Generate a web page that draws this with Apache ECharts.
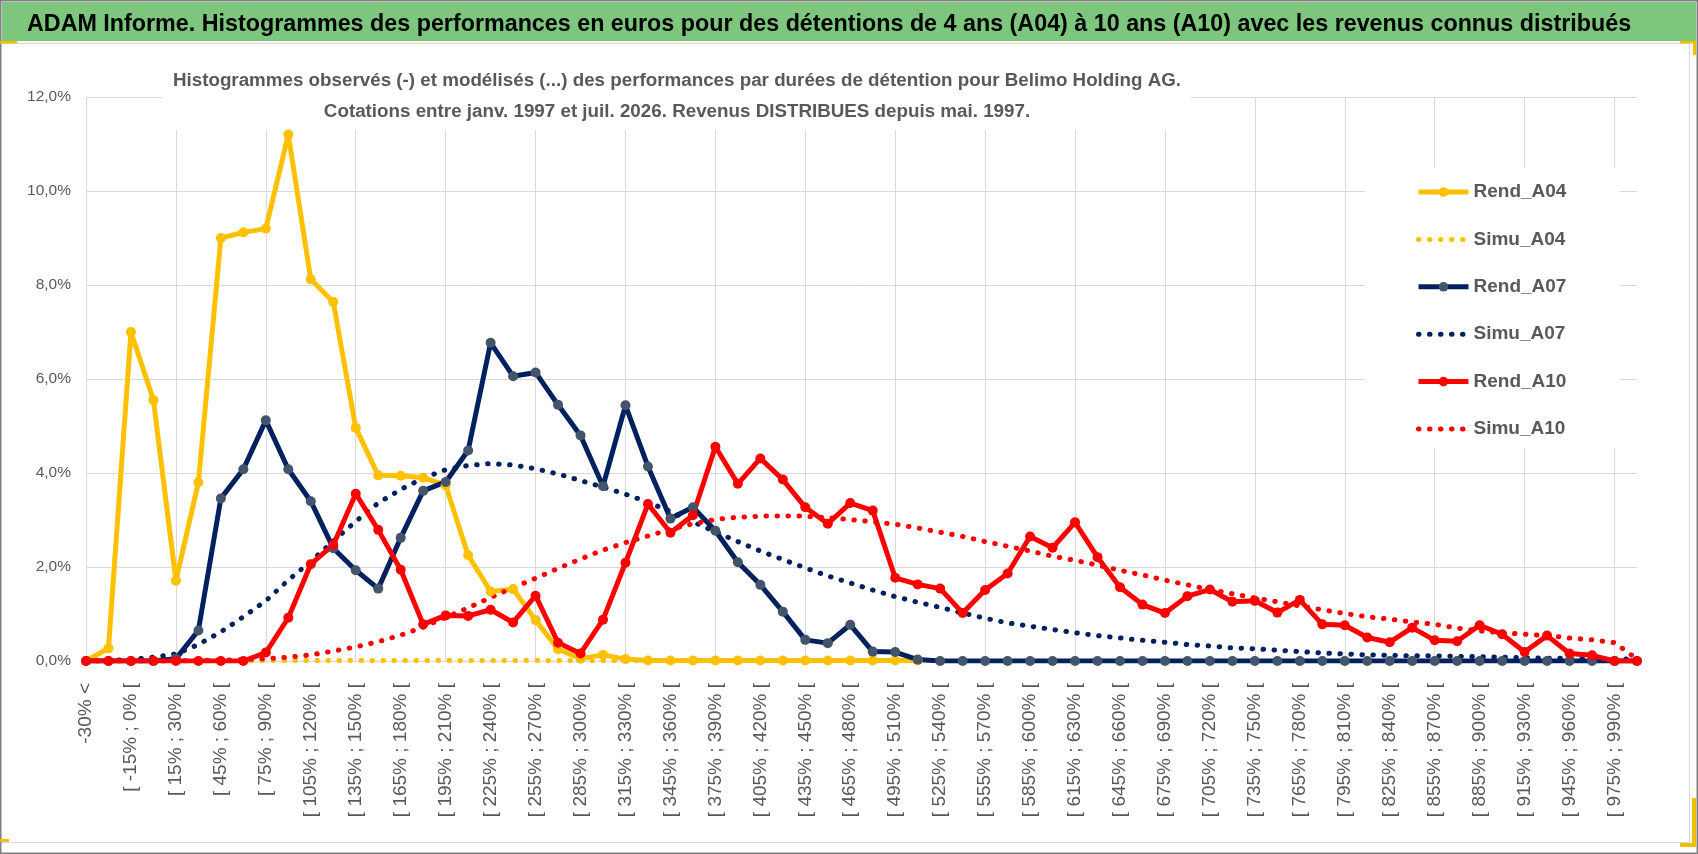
<!DOCTYPE html>
<html>
<head>
<meta charset="utf-8">
<title>ADAM Informe - Belimo Holding AG</title>
<script src="https://cdn.jsdelivr.net/npm/echarts@6/dist/echarts.min.js"></script>
<style>
html, body { margin: 0; padding: 0; background: #fff; }
#chart { width: 1698px; height: 854px; }
</style>
</head>
<body>
<div id="chart"></div>
<script>
// classes de performance (axe x)
const classes = [
    '-30% <',
    '[ -30% ; -15% [', '[ -15% ; 0% [', '[ 0% ; 15% [', '[ 15% ; 30% [', '[ 30% ; 45% [',
    '[ 45% ; 60% [', '[ 60% ; 75% [', '[ 75% ; 90% [', '[ 90% ; 105% [', '[ 105% ; 120% [',
    '[ 120% ; 135% [', '[ 135% ; 150% [', '[ 150% ; 165% [', '[ 165% ; 180% [', '[ 180% ; 195% [',
    '[ 195% ; 210% [', '[ 210% ; 225% [', '[ 225% ; 240% [', '[ 240% ; 255% [', '[ 255% ; 270% [',
    '[ 270% ; 285% [', '[ 285% ; 300% [', '[ 300% ; 315% [', '[ 315% ; 330% [', '[ 330% ; 345% [',
    '[ 345% ; 360% [', '[ 360% ; 375% [', '[ 375% ; 390% [', '[ 390% ; 405% [', '[ 405% ; 420% [',
    '[ 420% ; 435% [', '[ 435% ; 450% [', '[ 450% ; 465% [', '[ 465% ; 480% [', '[ 480% ; 495% [',
    '[ 495% ; 510% [', '[ 510% ; 525% [', '[ 525% ; 540% [', '[ 540% ; 555% [', '[ 555% ; 570% [',
    '[ 570% ; 585% [', '[ 585% ; 600% [', '[ 600% ; 615% [', '[ 615% ; 630% [', '[ 630% ; 645% [',
    '[ 645% ; 660% [', '[ 660% ; 675% [', '[ 675% ; 690% [', '[ 690% ; 705% [', '[ 705% ; 720% [',
    '[ 720% ; 735% [', '[ 735% ; 750% [', '[ 750% ; 765% [', '[ 765% ; 780% [', '[ 780% ; 795% [',
    '[ 795% ; 810% [', '[ 810% ; 825% [', '[ 825% ; 840% [', '[ 840% ; 855% [', '[ 855% ; 870% [',
    '[ 870% ; 885% [', '[ 885% ; 900% [', '[ 900% ; 915% [', '[ 915% ; 930% [', '[ 930% ; 945% [',
    '[ 945% ; 960% [', '[ 960% ; 975% [', '[ 975% ; 990% [',
    '990% >'
];

// frequences en %
const rendA04 = [
    0, 0.27, 7.00, 5.55, 1.71, 3.80, 9.00, 9.12, 9.20, 11.20,
    8.12, 7.64, 4.96, 3.95, 3.94, 3.90, 3.74, 2.25, 1.48, 1.53,
    0.87, 0.25, 0.05, 0.13, 0.04, 0.01, 0.01, 0.01, 0.01, 0.01,
    0.01, 0.01, 0.01, 0.01, 0.01, 0.01, 0.01, 0.01
];
const simuA04 = [
    0, 0, 0, 0, 0, 0, 0, 0, 0.01, 0.01,
    0.01, 0.01, 0.01, 0.01, 0.01, 0.01, 0.01, 0.01, 0.01, 0.01,
    0.01, 0.01, 0.01, 0.01, 0.01, 0.01, 0.01, 0.01, 0.01, 0.01,
    0.01, 0.01, 0.01, 0.01, 0.01, 0.01, 0.01, 0.01
];
const rendA07 = [
    0, 0, 0, 0, 0.05, 0.65, 3.46, 4.08, 5.12, 4.08,
    3.40, 2.40, 1.93, 1.54, 2.62, 3.62, 3.81, 4.48, 6.77, 6.06,
    6.14, 5.45, 4.80, 3.72, 5.44, 4.14, 3.03, 3.27, 2.77, 2.10,
    1.62, 1.05, 0.45, 0.38, 0.77, 0.20, 0.19, 0.03, 0, 0,
    0, 0, 0, 0, 0, 0, 0, 0, 0, 0,
    0, 0, 0, 0, 0, 0, 0, 0, 0, 0,
    0, 0, 0, 0, 0, 0, 0, 0, 0, 0
];
const simuA07 = [
    0, 0.01, 0.03, 0.08, 0.15, 0.35, 0.62, 0.94, 1.28, 1.72,
    2.12, 2.55, 2.97, 3.36, 3.65, 3.89, 4.07, 4.16, 4.20, 4.17,
    4.09, 3.98, 3.84, 3.70, 3.55, 3.38, 3.18, 2.96, 2.75, 2.54,
    2.34, 2.16, 1.98, 1.81, 1.66, 1.51, 1.37, 1.25, 1.14, 1.02,
    0.91, 0.81, 0.74, 0.67, 0.60, 0.54, 0.49, 0.44, 0.40, 0.35,
    0.32, 0.28, 0.26, 0.23, 0.20, 0.17, 0.15, 0.13, 0.12, 0.11,
    0.11, 0.10, 0.09, 0.08, 0.07, 0.06, 0.06, 0.05, 0.04, 0.04
];
const rendA10 = [
    0, 0, 0, 0, 0, 0, 0, 0, 0.18, 0.92,
    2.06, 2.47, 3.56, 2.79, 1.94, 0.78, 0.97, 0.96, 1.09, 0.82,
    1.39, 0.39, 0.16, 0.88, 2.09, 3.34, 2.73, 3.10, 4.56, 3.77,
    4.31, 3.86, 3.27, 2.92, 3.36, 3.20, 1.77, 1.63, 1.54, 1.02,
    1.51, 1.86, 2.65, 2.41, 2.95, 2.21, 1.57, 1.20, 1.02, 1.38,
    1.52, 1.26, 1.28, 1.03, 1.30, 0.78, 0.76, 0.50, 0.40, 0.71,
    0.44, 0.42, 0.76, 0.57, 0.19, 0.54, 0.16, 0.12, 0, 0
];
const simuA10 = [
    0, 0, 0, 0, 0, 0.01, 0.02, 0.03, 0.05, 0.08,
    0.13, 0.21, 0.30, 0.41, 0.55, 0.72, 0.93, 1.13, 1.35, 1.56,
    1.76, 1.97, 2.17, 2.36, 2.52, 2.66, 2.80, 2.92, 3.01, 3.06,
    3.08, 3.09, 3.08, 3.05, 3.01, 2.96, 2.91, 2.83, 2.74, 2.65,
    2.54, 2.44, 2.34, 2.23, 2.14, 2.04, 1.93, 1.83, 1.72, 1.62,
    1.52, 1.43, 1.34, 1.26, 1.17, 1.09, 1.01, 0.94, 0.89, 0.83,
    0.78, 0.70, 0.64, 0.60, 0.57, 0.54, 0.49, 0.45, 0.39, 0.04
];

const yTicks = [0, 2, 4, 6, 8, 10, 12];

const mainTitle = 'ADAM Informe. Histogrammes des performances en euros pour des détentions de 4 ans (A04) à 10 ans (A10) avec les revenus connus distribués';
const subTitle = [
    'Histogrammes observés (-) et modélisés (...) des performances par durées de détention pour Belimo Holding AG.',
    'Cotations entre janv. 1997 et juil. 2026. Revenus DISTRIBUES depuis mai. 1997.'
];

const FONT = "'Liberation Sans', Arial, sans-serif";
const GREY = '#595959';
const GRID = '#D9D9D9';
const YELLOW = '#FFC000';
const NAVY = '#002060';
const RED = '#FF0000';

function rendSerie(name, data, color, dotColor) {
    return {
        name: name,
        type: 'line',
        data: data,
        symbol: 'circle',
        symbolSize: 10,
        showAllSymbol: true,
        lineStyle: { color: color, width: 5 },
        itemStyle: { color: dotColor || color },
        emphasis: { disabled: true }
    };
}

function simuSerie(name, data, color) {
    return {
        name: name,
        type: 'line',
        data: data,
        symbol: 'none',
        lineStyle: { color: color, width: 5, type: [0.5, 10.5], cap: 'round' },
        itemStyle: { color: color },
        emphasis: { disabled: true }
    };
}

// entrees de legende : pas de pastille pour les courbes modelisees
function legendItem(name, simu) {
    return simu ? { name: name, itemStyle: { opacity: 0 } } : { name: name };
}

const chart = echarts.init(document.getElementById('chart'));
const option = {
    animation: false,
    backgroundColor: '#fff',
    textStyle: { fontFamily: FONT },
    title: [
        {
            text: mainTitle,
            left: 27,
            top: 13,
            padding: 0,
            textStyle: { fontSize: 23.3, fontWeight: 'bold', color: '#000', lineHeight: 23, fontFamily: FONT }
        },
        {
            text: subTitle.join('\n'),
            left: 677,
            top: 65,
            padding: 0,
            textAlign: 'center',
            textStyle: { fontSize: 18.8, fontWeight: 'bold', color: GREY, lineHeight: 31, fontFamily: FONT }
        }
    ],
    legend: {
        orient: 'vertical',
        left: 1365,
        top: 168,
        padding: [14, 53, 9, 51],
        itemWidth: 50,
        itemHeight: 12,
        itemGap: 27.4,
        backgroundColor: '#fff',
        lineStyle: { width: 'inherit' },
        textStyle: { fontSize: 19, fontWeight: 'bold', color: GREY, lineHeight: 20, fontFamily: FONT },
        data: [
            legendItem('Rend_A04', false), legendItem('Simu_A04', true),
            legendItem('Rend_A07', false), legendItem('Simu_A07', true),
            legendItem('Rend_A10', false), legendItem('Simu_A10', true)
        ]
    },
    grid: { left: 86, right: 61, top: 97, bottom: 193 },
    xAxis: {
        type: 'category',
        data: classes,
        boundaryGap: false,
        axisLine: { show: true, lineStyle: { color: GRID, width: 1 } },
        axisTick: { show: false },
        axisLabel: { interval: 1, rotate: 90, margin: 22, color: GREY, fontSize: 19, fontFamily: FONT },
        splitLine: { show: true, interval: 3, lineStyle: { color: GRID, width: 1 } }
    },
    yAxis: {
        type: 'value',
        min: yTicks[0],
        max: yTicks[yTicks.length - 1],
        interval: yTicks[1] - yTicks[0],
        axisLine: { show: false },
        axisTick: { show: false },
        axisLabel: {
            margin: 15,
            color: GREY,
            fontSize: 15.5,
            fontFamily: FONT,
            formatter: function (v) { return v.toFixed(1).replace('.', ',') + '%'; }
        },
        splitLine: { lineStyle: { color: GRID, width: 1 } }
    },
    graphic: [
        // bandeau vert du titre
        { type: 'rect', z: 0, shape: { x: 2, y: 2, width: 1694, height: 39 }, style: { fill: '#7DC67D' } },
        { type: 'line', z: 0, shape: { x1: 2, y1: 43.5, x2: 1690, y2: 43.5 }, style: { stroke: GRID, lineWidth: 1 } },
        // fond blanc sous le sous-titre
        { type: 'rect', z: 1, shape: { x: 162, y: 48, width: 1029, height: 82 }, style: { fill: '#fff' } },
        // cadre
        { type: 'line', z: 0, shape: { x1: 1689.5, y1: 44, x2: 1689.5, y2: 842 }, style: { stroke: GRID, lineWidth: 1 } },
        { type: 'line', z: 0, shape: { x1: 2, y1: 842.5, x2: 1690, y2: 842.5 }, style: { stroke: GRID, lineWidth: 1 } },
        { type: 'rect', z: 10, shape: { x: 0.75, y: 0.75, width: 1696.5, height: 852.5 }, style: { fill: 'none', stroke: '#7F7F7F', lineWidth: 1.5 } },
        // poignees jaunes
        { type: 'rect', z: 11, shape: { x: 0, y: 41, width: 17, height: 2.5 }, style: { fill: '#F0C000' } },
        { type: 'rect', z: 11, shape: { x: 1680, y: 41, width: 16, height: 2.5 }, style: { fill: '#F0C000' } },
        { type: 'rect', z: 11, shape: { x: 1693, y: 41, width: 3, height: 14 }, style: { fill: '#F0C000' } },
        { type: 'rect', z: 11, shape: { x: 1692, y: 798, width: 4, height: 49 }, style: { fill: '#F0C000' } },
        { type: 'rect', z: 11, shape: { x: 1680, y: 843, width: 16, height: 4 }, style: { fill: '#F0C000' } },
        { type: 'rect', z: 11, shape: { x: 0, y: 839, width: 9, height: 3 }, style: { fill: '#F0C000' } }
    ],
    series: [
        rendSerie('Rend_A04', rendA04, YELLOW),
        simuSerie('Simu_A04', simuA04, YELLOW),
        rendSerie('Rend_A07', rendA07, NAVY, '#44546A'),
        simuSerie('Simu_A07', simuA07, NAVY),
        rendSerie('Rend_A10', rendA10, RED),
        simuSerie('Simu_A10', simuA10, RED)
    ]
};
chart.setOption(option);
</script>
</body>
</html>
